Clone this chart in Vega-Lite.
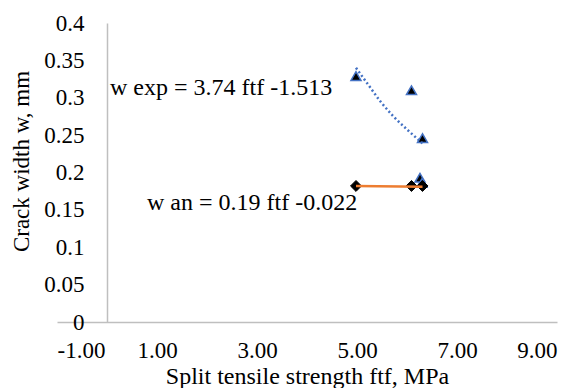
{
  "$schema": "https://vega.github.io/schema/vega-lite/v6.json",
  "autosize": "none",
  "padding": {"left": 57, "top": 23, "right": 30, "bottom": 66},
  "width": 500,
  "height": 299,
  "background": "white",
  "config": {
    "view": {"stroke": null},
    "font": "Liberation Serif",
    "axis": {"labelFont": "Liberation Serif", "titleFont": "Liberation Serif", "labelColor": "#000000", "titleColor": "#000000", "titleFontWeight": "normal", "grid": false, "ticks": false, "domainColor": "#BFBFBF", "domainWidth": 1.5, "labelOverlap": false}
  },
  "datasets": {
    "points": [
      {"series": "exp", "ftf": 4.98, "w": 0.329},
      {"series": "exp", "ftf": 6.09, "w": 0.31},
      {"series": "exp", "ftf": 6.31, "w": 0.246},
      {"series": "exp", "ftf": 6.26, "w": 0.193},
      {"series": "exp", "ftf": 6.3, "w": 0.186},
      {"series": "an", "ftf": 4.98, "w": 0.182},
      {"series": "an", "ftf": 6.09, "w": 0.182},
      {"series": "an", "ftf": 6.31, "w": 0.182}
    ],
    "trends": [
      {"series": "exp", "ftf": 4.98, "w": 0.34},
      {"series": "exp", "ftf": 5.23, "w": 0.317},
      {"series": "exp", "ftf": 5.47, "w": 0.295},
      {"series": "exp", "ftf": 5.73, "w": 0.275},
      {"series": "exp", "ftf": 6.01, "w": 0.257},
      {"series": "exp", "ftf": 6.31, "w": 0.239},
      {"series": "an", "ftf": 4.98, "w": 0.182},
      {"series": "an", "ftf": 6.31, "w": 0.181}
    ],
    "labels": [
      {"label": "w exp = 3.74 ftf -1.513", "ftf": 0.06, "w": 0.313},
      {"label": "w an = 0.19 ftf -0.022", "ftf": 0.8, "w": 0.159}
    ]
  },
  "layer": [
    {
      "data": {"name": "points"},
      "transform": [{"filter": "datum.series === 'exp'"}],
      "mark": {"type": "point", "shape": "triangle-up", "size": 100, "filled": true, "fill": "#000000", "stroke": "#4472C4", "strokeWidth": 1.5, "opacity": 1},
      "encoding": {
        "x": {"field": "ftf", "type": "quantitative", "scale": {"domain": [-1, 9], "nice": false, "zero": false},
          "axis": {"values": [-1, 1, 3, 5, 7, 9], "tickCount": 12, "labelOverlap": false, "labelExpr": "(datum.value < 0 ? '-' : '') + format(abs(datum.value), '.2f')", "labelFontSize": 23, "labelPadding": 17, "title": "Split tensile strength ftf, MPa", "titleFontSize": 24, "titleY": 61, "titleBaseline": "alphabetic"}},
        "y": {"field": "w", "type": "quantitative", "scale": {"domain": [0, 0.4], "nice": false},
          "axis": {"values": [0, 0.05, 0.1, 0.15, 0.2, 0.25, 0.3, 0.35, 0.4], "tickCount": 12, "labelOverlap": false, "labelBound": false, "labelExpr": "format(datum.value, '~g')", "offset": -50, "labelFontSize": 23, "labelPadding": 23, "title": "Crack width w, mm", "titleFontSize": 23, "titleX": -79, "titleY": 138, "titleBaseline": "alphabetic"}}
      }
    },
    {
      "data": {"name": "points"},
      "transform": [{"filter": "datum.series === 'an'"}],
      "mark": {"type": "point", "shape": "diamond", "size": 120, "filled": true, "fill": "#000000", "stroke": "#000000", "strokeWidth": 1, "opacity": 1},
      "encoding": {
        "x": {"field": "ftf", "type": "quantitative"},
        "y": {"field": "w", "type": "quantitative"}
      }
    },
    {
      "data": {"name": "trends"},
      "transform": [{"filter": "datum.series === 'exp'"}],
      "mark": {"type": "line", "color": "#4472C4", "strokeWidth": 2.5, "strokeDash": [2, 2.5], "interpolate": "monotone"},
      "encoding": {
        "x": {"field": "ftf", "type": "quantitative"},
        "y": {"field": "w", "type": "quantitative"}
      }
    },
    {
      "data": {"name": "trends"},
      "transform": [{"filter": "datum.series === 'an'"}],
      "mark": {"type": "line", "color": "#ED7D31", "strokeWidth": 2.5},
      "encoding": {
        "x": {"field": "ftf", "type": "quantitative"},
        "y": {"field": "w", "type": "quantitative"}
      }
    },
    {
      "data": {"name": "labels"},
      "mark": {"type": "text", "align": "left", "baseline": "middle", "fontSize": 24, "font": "Liberation Serif", "color": "#000000"},
      "encoding": {
        "x": {"field": "ftf", "type": "quantitative"},
        "y": {"field": "w", "type": "quantitative"},
        "text": {"field": "label"}
      }
    }
  ]
}
